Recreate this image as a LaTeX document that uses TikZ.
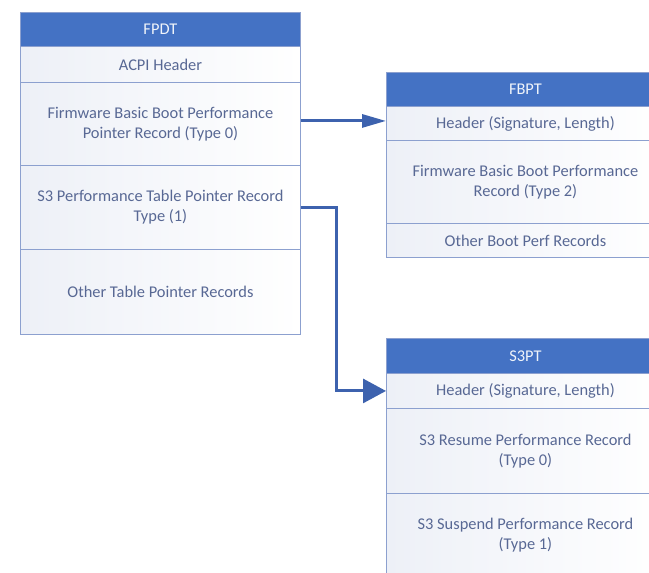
\documentclass[tikz,border=0pt]{standalone}
\usepackage{fontspec}
\setmainfont{Carlito}
\usetikzlibrary{arrows.meta}
\definecolor{hdrblue}{HTML}{4472C4}
\definecolor{rowline}{HTML}{8CA0CF}
\definecolor{rowtext}{HTML}{586894}
\definecolor{rowtint}{HTML}{EDF0F7}
\definecolor{linkblue}{HTML}{3D62AE}
\tikzset{
  cell/.style={draw=rowline, line width=0.9pt, anchor=north west, inner sep=0pt,
    align=center, font=\fontsize{16.4}{20}\selectfont},
  titlecell/.style={cell, fill=hdrblue, text=white!92!hdrblue},
  bodycell/.style={cell, left color=rowtint, right color=white, text=rowtext},
  link/.style={draw=linkblue, line width=3pt},
}
\begin{document}
\begin{tikzpicture}[x=1pt, y=-1pt]
\useasboundingbox (0,0) rectangle (649,573);
\clip (0,0) rectangle (649,573);
\fill[white] (0,0) rectangle (649,573);

% FPDT table
\node[titlecell, minimum width=280pt, minimum height=34pt] (fpdt-head) at (20,12) {FPDT};
\node[bodycell, minimum width=280pt, minimum height=36pt] (fpdt-acpi) at (20,46) {ACPI Header};
\node[bodycell, minimum width=280pt, minimum height=83pt] (fpdt-fbbp) at (20,82)
  {Firmware Basic Boot Performance\\Pointer Record (Type 0)};
\node[bodycell, minimum width=280pt, minimum height=84pt] (fpdt-s3) at (20,165)
  {S3 Performance Table Pointer Record\\Type (1)};
\node[bodycell, minimum width=280pt, minimum height=85pt] (fpdt-other) at (20,249)
  {Other Table Pointer Records};

% FBPT table
\node[titlecell, minimum width=278pt, minimum height=34pt] (fbpt-head) at (386,72) {FBPT};
\node[bodycell, minimum width=278pt, minimum height=34pt] (fbpt-hdr) at (386,106)
  {Header (Signature, Length)};
\node[bodycell, minimum width=278pt, minimum height=83pt] (fbpt-rec) at (386,140)
  {Firmware Basic Boot Performance\\Record (Type 2)};
\node[bodycell, minimum width=278pt, minimum height=34pt] (fbpt-other) at (386,223)
  {Other Boot Perf Records};

% S3PT table
\node[titlecell, minimum width=278pt, minimum height=35pt] (s3pt-head) at (386,338) {S3PT};
\node[bodycell, minimum width=278pt, minimum height=35pt] (s3pt-hdr) at (386,373)
  {Header (Signature, Length)};
\node[bodycell, minimum width=278pt, minimum height=85pt] (s3pt-resume) at (386,408)
  {S3 Resume Performance Record\\(Type 0)};
\node[bodycell, minimum width=278pt, minimum height=84pt] (s3pt-suspend) at (386,493)
  {S3 Suspend Performance Record\\(Type 1)};

% pointers
\draw[link, -{Triangle[length=24pt,width=13pt]}]
  ([yshift=3pt]fpdt-fbbp.east) -- ([yshift=3pt]fpdt-fbbp.east -| fbpt-hdr.west);
\draw[link, -{Triangle[length=23pt,width=24pt]}]
  (fpdt-s3.east) -- ++(36,0) |- (s3pt-hdr.west);
\end{tikzpicture}
\end{document}
